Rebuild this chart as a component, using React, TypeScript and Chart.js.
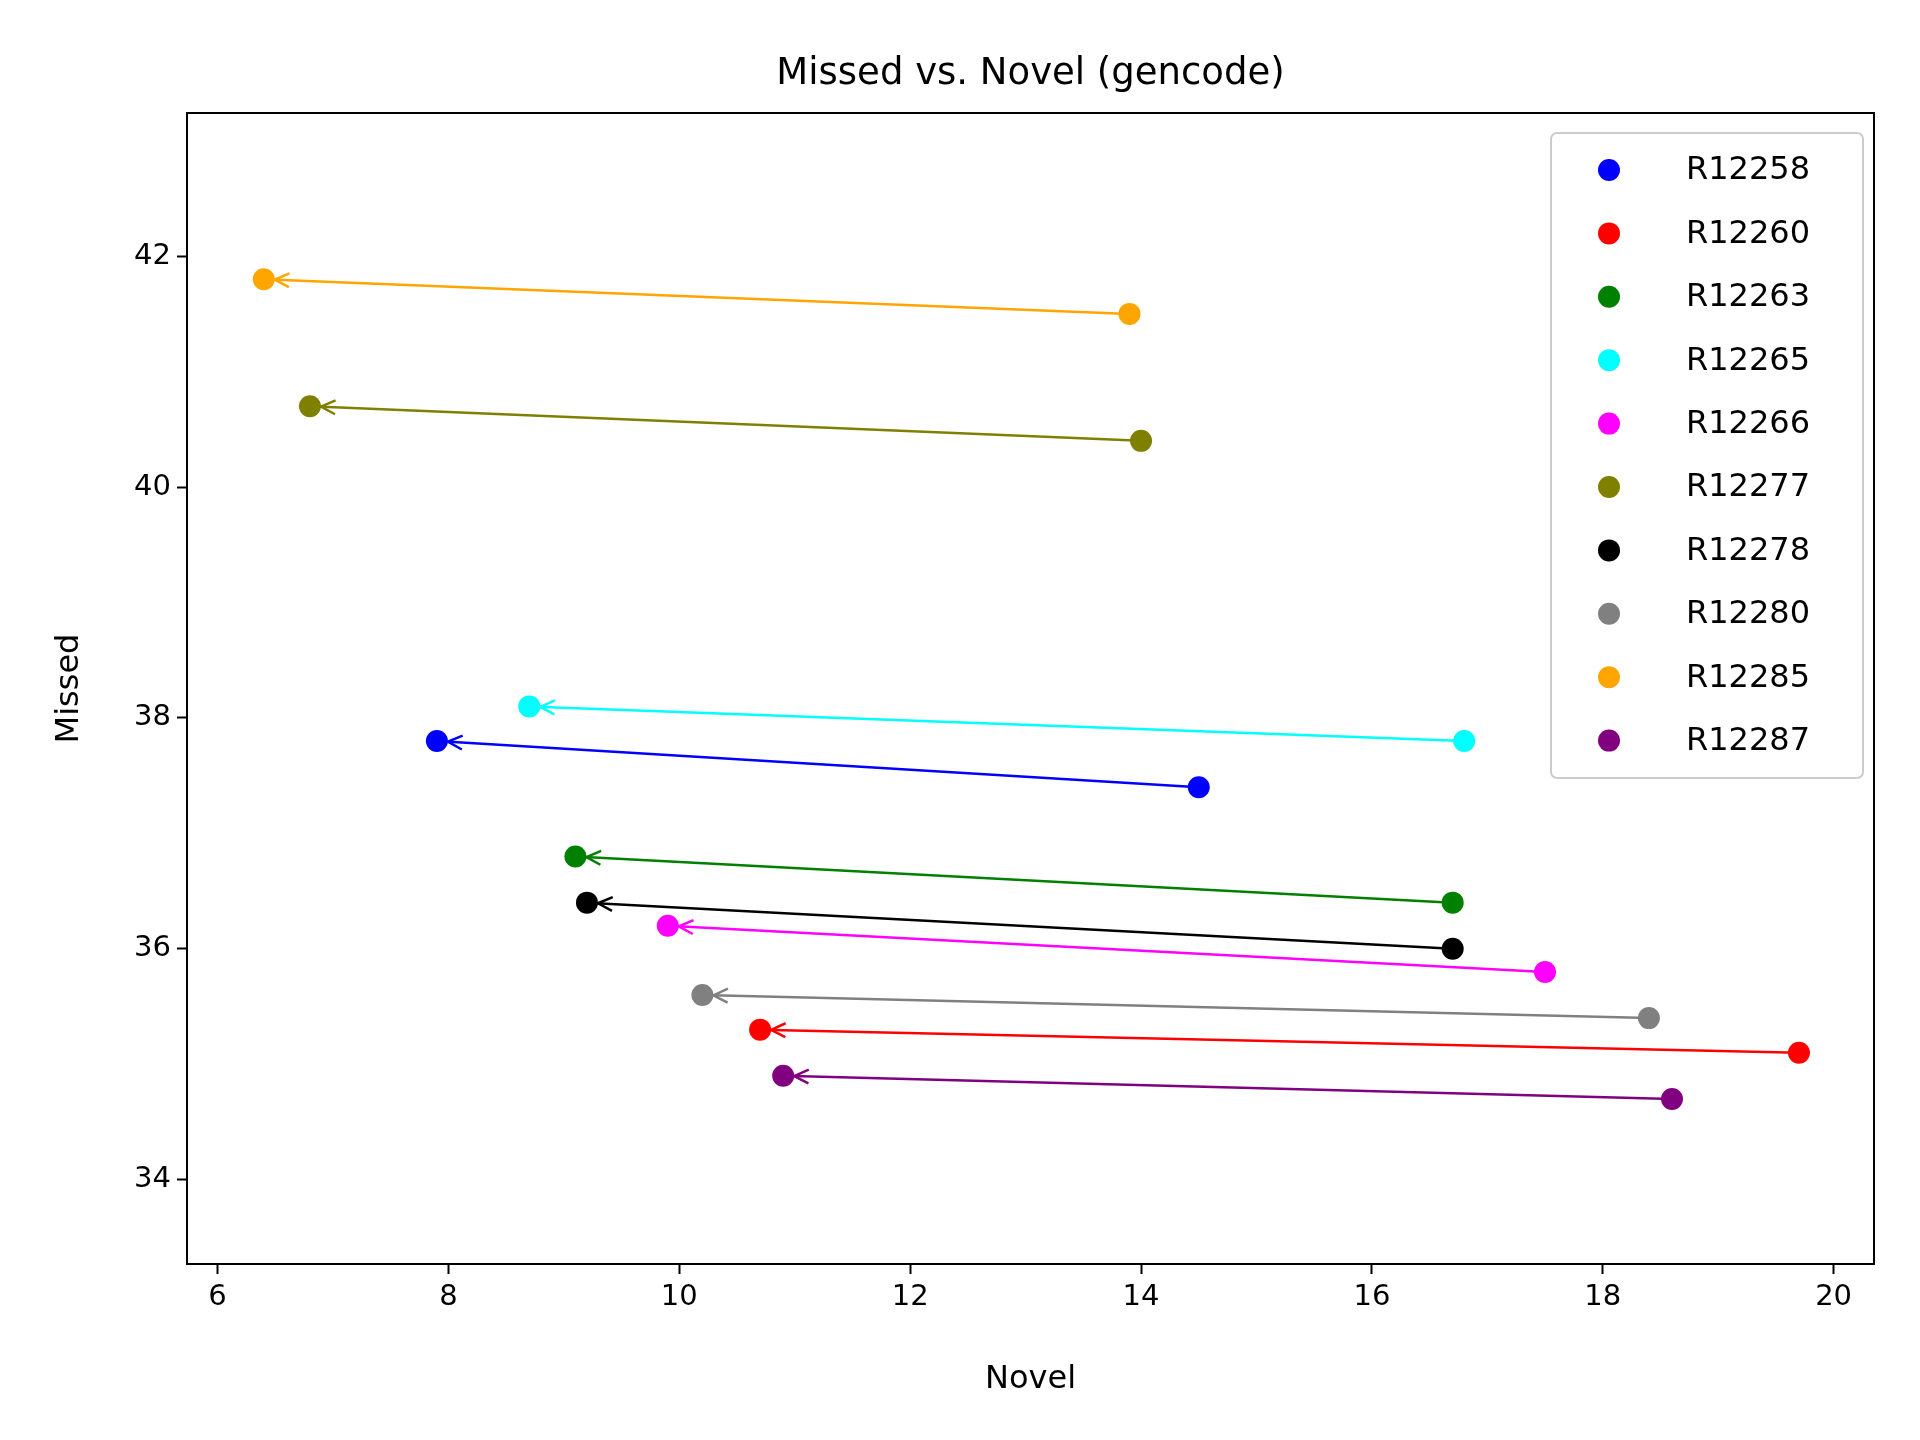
import React, { useEffect, useRef } from "react";
import { Chart, registerables } from "chart.js";
Chart.register(...registerables);

const labels = ["R12258","R12260","R12263","R12265","R12266","R12277","R12278","R12280","R12285","R12287"];
const colors = ["blue","red","green","cyan","magenta","olive","black","gray","orange","purple"];
const startNovel = [14.5,19.7,16.7,16.8,17.5,14.0,16.7,18.4,13.9,18.6];
const startMissed = [37.4,35.1,36.4,37.8,35.8,40.4,36.0,35.4,41.5,34.7];
const endNovel = [7.9,10.7,9.1,8.7,9.9,6.8,9.2,10.2,6.4,10.9];
const endMissed = [37.8,35.3,36.8,38.1,36.2,40.7,36.4,35.6,41.8,34.9];
const xTicks = [6,8,10,12,14,16,18,20];
const yTicks = [34,36,38,40,42];
const FONT = "'DejaVu Sans', sans-serif";

export default function App() {
  const ref = useRef<HTMLCanvasElement>(null);
  useEffect(() => {
    const ctx = ref.current!.getContext("2d")!;
    const extras = {
      id: "extras",
      afterDatasetsDraw(chart: any) {
        const c = chart.ctx;
        const xs = chart.scales.x, ys = chart.scales.y;
        const a = chart.chartArea;
        c.save();
        labels.forEach((_, i) => {
          const x0 = xs.getPixelForValue(startNovel[i]), y0 = ys.getPixelForValue(startMissed[i]);
          const x1 = xs.getPixelForValue(endNovel[i]), y1 = ys.getPixelForValue(endMissed[i]);
          const ang = Math.atan2(y1 - y0, x1 - x0);
          const tipX = x1 - Math.cos(ang) * 11, tipY = y1 - Math.sin(ang) * 11;
          c.strokeStyle = colors[i];
          c.lineWidth = 2.5;
          c.beginPath();
          for (const s of [-1, 1]) {
            const aa = ang + Math.PI + s * 0.45;
            c.moveTo(tipX, tipY);
            c.lineTo(tipX + Math.cos(aa) * 16, tipY + Math.sin(aa) * 16);
          }
          c.stroke();
        });
        c.strokeStyle = "black";
        c.lineWidth = 2;
        c.strokeRect(a.left, a.top, a.right - a.left, a.bottom - a.top);
        c.fillStyle = "black";
        c.font = `37px ${FONT}`;
        c.textAlign = "center";
        c.textBaseline = "alphabetic";
        c.fillText("Missed vs. Novel (gencode)", (a.left + a.right) / 2, 84);
        c.font = `32px ${FONT}`;
        c.fillText("Novel", (a.left + a.right) / 2, 1388);
        c.save();
        c.translate(78, (a.top + a.bottom) / 2);
        c.rotate(-Math.PI / 2);
        c.fillText("Missed", 0, 0);
        c.restore();
        const lx = 1551, ly = 133, lw = 312, lh = 645;
        c.fillStyle = "rgba(255,255,255,0.8)";
        c.strokeStyle = "#cccccc";
        c.lineWidth = 2;
        c.beginPath();
        (c as any).roundRect(lx, ly, lw, lh, 6);
        c.fill();
        c.stroke();
        c.font = `32px ${FONT}`;
        c.textAlign = "left";
        c.textBaseline = "middle";
        labels.forEach((l, i) => {
          const yy = 170 + i * 63.4;
          c.fillStyle = colors[i];
          c.beginPath();
          c.arc(1609, yy, 11, 0, Math.PI * 2);
          c.fill();
          c.fillStyle = "black";
          c.fillText(l, 1686, yy + 1);
        });
        c.restore();
      },
    };
    const chart = new Chart(ctx, {
      type: "scatter",
      data: {
        datasets: labels.map((l, i) => ({
          label: l,
          data: [
            { x: startNovel[i], y: startMissed[i] },
            { x: endNovel[i], y: endMissed[i] },
          ],
          showLine: true,
          borderColor: colors[i],
          backgroundColor: colors[i],
          borderWidth: 2.5,
          pointRadius: 11,
          pointBorderWidth: 0,
        })),
      },
      options: {
        responsive: false,
        animation: false,
        layout: { padding: { top: 113, right: 46, left: 0, bottom: 0 } },
        plugins: { legend: { display: false }, tooltip: { enabled: false } },
        scales: {
          x: {
            type: "linear",
            min: 5.735,
            max: 20.35,
            afterBuildTicks: (s: any) => { s.ticks = xTicks.map((v) => ({ value: v })); },
            afterFit: (s: any) => { s.height = 176; },
            grid: { drawOnChartArea: false, tickLength: 10, color: "black", tickWidth: 2 },
            border: { display: false },
            ticks: { color: "black", font: { size: 29, family: FONT }, padding: 6, maxRotation: 0 },
          },
          y: {
            type: "linear",
            min: 33.27,
            max: 43.24,
            afterBuildTicks: (s: any) => { s.ticks = yTicks.map((v) => ({ value: v })); },
            afterFit: (s: any) => { s.width = 187; },
            grid: { drawOnChartArea: false, tickLength: 10, color: "black", tickWidth: 2 },
            border: { display: false },
            ticks: { color: "black", font: { size: 29, family: FONT }, padding: 6 },
          },
        },
      },
      plugins: [extras],
    } as any);
    return () => chart.destroy();
  }, []);
  return (
    <canvas
      ref={ref}
      width={1920}
      height={1440}
      style={{ position: "absolute", left: 0, top: 0, width: 1920, height: 1440, background: "white" }}
    />
  );
}
